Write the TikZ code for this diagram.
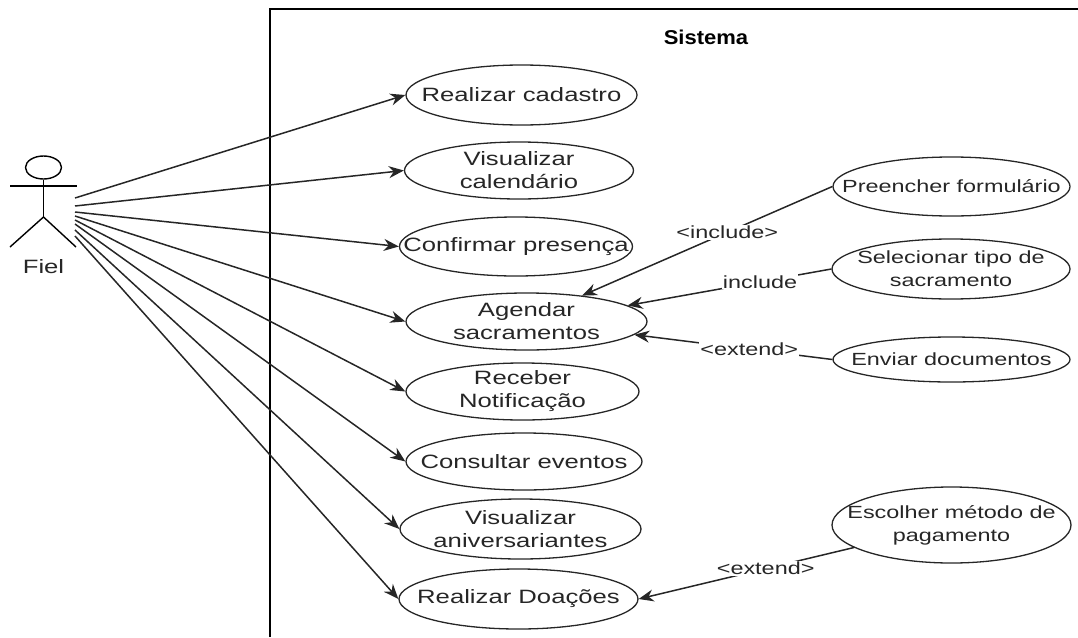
\documentclass[tikz,border=0pt]{standalone}
\usepackage{fontspec}
\setmainfont[FakeStretch=1.33]{Liberation Sans}
\newfontfamily\titlefont[FakeStretch=1.1]{Liberation Sans}
\usetikzlibrary{shapes.geometric,arrows.meta}
\tikzset{
  uc/.style={draw=black!85,line width=1.3pt,ellipse,inner xsep=-60pt,inner ysep=-12pt,align=center,text=black!85,font=\fontsize{19.3}{23}\selectfont},
  ucs/.style={uc,font=\fontsize{17.6}{23}\selectfont},
  lnk/.style={draw=black!85,line width=1.5pt,-{Stealth[length=15pt,width=12pt]}},
  lbl/.style={fill=white,inner sep=1pt,text=black!85,font=\fontsize{17.6}{20}\selectfont},
  stick/.style={draw=black,line width=1.4pt},
  frm/.style={draw=black,line width=1.8pt}
}
\newcommand{\usecase}[7][uc]{\node[#1,minimum width=#6pt,minimum height=#7pt] (#2) at (#3,#4) {#5};}
\begin{document}
\begin{tikzpicture}[x=1pt,y=-1pt]
\useasboundingbox (0,0) rectangle (1078,637);
\coordinate (ftl) at (270,637);
\coordinate (ftm) at (270,9);
\coordinate (ftr) at (1078,9);
\draw[frm] (ftl) -- (ftm) -- (ftr);
\node[inner sep=0pt,text=black,font=\titlefont\fontsize{20}{24}\bfseries\selectfont] (title) at (706,37) {Sistema};
% actor
\node[stick,ellipse,inner sep=0pt,minimum width=36pt,minimum height=23pt] (head) at (43.5,167.5) {};
\coordinate (hip) at (43.5,217);
\coordinate (armL) at (10,186);
\coordinate (armR) at (77,186);
\coordinate (legL) at (10,247);
\coordinate (legR) at (76,247);
\draw[stick] (head.south) -- (hip);
\draw[stick] (armL) -- (armR);
\draw[stick] (legL) -- (hip) -- (legR);
\node[inner sep=0pt,text=black!85,font=\fontsize{19.3}{23}\selectfont] (fiel) at (43.5,267) {Fiel};
% use cases
\usecase{u1}{521.5}{95}{Realizar cadastro}{231}{60}
\usecase{u2}{519}{170.5}{Visualizar\\calendário}{229}{57}
\usecase{u3}{516}{246.5}{Confirmar presença}{233}{59}
\usecase{u4}{526.5}{321.5}{Agendar\\sacramentos}{241}{57}
\usecase{u5}{522.5}{391.5}{Receber\\Notificação}{233}{57}
\usecase{u6}{524}{461.5}{Consultar eventos}{236}{57}
\usecase{u7}{520.5}{529}{Visualizar\\aniversariantes}{241}{60}
\usecase{u8}{518.5}{599}{Realizar Doações}{239}{60}
\usecase[ucs]{p1}{951.5}{186.5}{Preencher formulário}{237}{59}
\usecase[ucs]{p2}{951}{269}{Selecionar tipo de\\sacramento}{238}{60}
\usecase[ucs]{p3}{951.5}{359.5}{Enviar documentos}{237}{45}
\usecase[ucs]{p4}{951.5}{525}{Escolher método de\\pagamento}{239}{76}
% actor links
\coordinate (s1) at (75,198);
\coordinate (s2) at (75,206);
\coordinate (s3) at (75,212);
\coordinate (s4) at (75,216);
\coordinate (s5) at (75,220);
\coordinate (s6) at (75,224);
\coordinate (s7) at (75,230);
\coordinate (s8) at (75,236);
\draw[lnk] (s1) -- (u1.west);
\draw[lnk] (s2) -- (u2.west);
\draw[lnk] (s3) -- (u3.west);
\draw[lnk] (s4) -- (u4.west);
\draw[lnk] (s5) -- (u5.west);
\draw[lnk] (s6) -- (u6.west);
\draw[lnk] (s7) -- (u7.west);
\draw[lnk] (s8) -- (u8.west);
% relations
\draw[lnk] (p1.west) -- node[lbl,pos=0.42] {<include>} (u4.25);
\draw[lnk] (p2.west) -- node[lbl,pos=0.35] {include} (u4.9);
\draw[lnk] (p3.west) -- node[lbl,pos=0.42] {<extend>} (u4.-7);
\draw[lnk] (p4.193) -- node[lbl,pos=0.41] {<extend>} (u8.east);
\end{tikzpicture}
\end{document}
